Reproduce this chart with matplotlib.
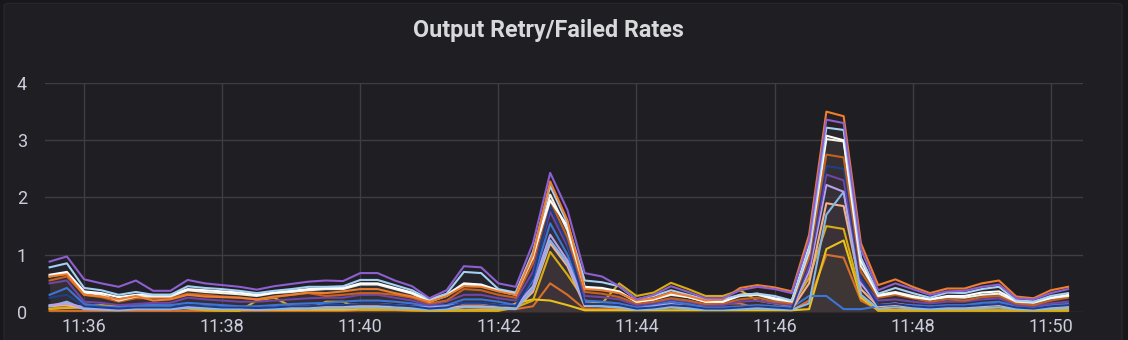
import numpy as np
import pandas as pd
import matplotlib
matplotlib.use("Agg")
import matplotlib.pyplot as plt
import matplotlib.dates as mdates
from matplotlib.patches import FancyBboxPatch

# sample times: one point every 15 s
start_time = "2021-06-01 11:35:30"
n_points = 60

# rates per series
purple = [0.88, 0.97, 0.57, 0.50, 0.44, 0.55, 0.37, 0.37, 0.56, 0.50,
          0.47, 0.44, 0.39, 0.45, 0.49, 0.53, 0.55, 0.54, 0.68, 0.68,
          0.55, 0.45, 0.24, 0.38, 0.80, 0.78, 0.50, 0.44, 1.20, 2.43,
          1.78, 0.68, 0.62, 0.45, 0.22, 0.30, 0.45, 0.35, 0.24, 0.24,
          0.38, 0.44, 0.40, 0.33, 1.25, 3.36, 3.30, 1.10, 0.38, 0.50,
          0.40, 0.30, 0.36, 0.37, 0.44, 0.48, 0.24, 0.22, 0.33, 0.40]
orange = [0.62, 0.66, 0.30, 0.27, 0.22, 0.28, 0.20, 0.22, 0.30, 0.27,
          0.26, 0.25, 0.22, 0.27, 0.30, 0.34, 0.33, 0.36, 0.40, 0.40,
          0.33, 0.27, 0.18, 0.28, 0.45, 0.44, 0.36, 0.30, 1.00, 2.28,
          1.60, 0.40, 0.38, 0.33, 0.20, 0.24, 0.34, 0.28, 0.20, 0.22,
          0.42, 0.47, 0.43, 0.36, 1.35, 3.50, 3.42, 1.20, 0.47, 0.57,
          0.44, 0.33, 0.41, 0.41, 0.50, 0.55, 0.27, 0.24, 0.38, 0.44]
light_blue = [0.78, 0.85, 0.42, 0.38, 0.30, 0.35, 0.30, 0.30, 0.45, 0.42,
              0.40, 0.37, 0.33, 0.37, 0.40, 0.44, 0.44, 0.45, 0.56, 0.56,
              0.47, 0.38, 0.22, 0.32, 0.70, 0.68, 0.40, 0.34, 1.05, 2.20,
              1.55, 0.55, 0.52, 0.45, 0.22, 0.28, 0.38, 0.30, 0.22, 0.22,
              0.30, 0.32, 0.28, 0.20, 1.10, 3.22, 3.18, 0.95, 0.32, 0.42,
              0.33, 0.25, 0.34, 0.33, 0.40, 0.44, 0.20, 0.18, 0.28, 0.33]
white = [0.65, 0.70, 0.36, 0.33, 0.26, 0.30, 0.30, 0.30, 0.40, 0.38,
         0.36, 0.34, 0.30, 0.34, 0.37, 0.40, 0.42, 0.42, 0.50, 0.50,
         0.42, 0.34, 0.20, 0.30, 0.50, 0.48, 0.38, 0.32, 1.00, 1.95,
         1.50, 0.44, 0.42, 0.36, 0.18, 0.22, 0.32, 0.26, 0.18, 0.18,
         0.30, 0.32, 0.24, 0.20, 1.15, 3.08, 3.00, 0.90, 0.28, 0.33,
         0.26, 0.22, 0.28, 0.28, 0.34, 0.36, 0.20, 0.18, 0.25, 0.30]
cream = [0.62, 0.68, 0.34, 0.30, 0.20, 0.27, 0.27, 0.27, 0.38, 0.35,
         0.33, 0.31, 0.28, 0.33, 0.35, 0.38, 0.40, 0.40, 0.48, 0.48,
         0.40, 0.32, 0.18, 0.28, 0.48, 0.46, 0.37, 0.30, 0.95, 2.05,
         1.42, 0.42, 0.40, 0.34, 0.18, 0.22, 0.30, 0.26, 0.18, 0.18,
         0.28, 0.30, 0.22, 0.18, 1.05, 3.02, 2.98, 0.80, 0.30, 0.35,
         0.28, 0.22, 0.26, 0.25, 0.30, 0.32, 0.18, 0.16, 0.24, 0.28]
brown = [0.55, 0.62, 0.30, 0.26, 0.18, 0.24, 0.24, 0.24, 0.32, 0.30,
         0.27, 0.25, 0.22, 0.26, 0.30, 0.33, 0.28, 0.30, 0.33, 0.33,
         0.30, 0.25, 0.15, 0.20, 0.40, 0.38, 0.30, 0.25, 0.85, 1.95,
         1.30, 0.35, 0.32, 0.26, 0.15, 0.18, 0.24, 0.20, 0.14, 0.15,
         0.22, 0.25, 0.18, 0.15, 0.95, 2.75, 2.70, 0.70, 0.25, 0.30,
         0.24, 0.18, 0.22, 0.20, 0.26, 0.28, 0.15, 0.12, 0.20, 0.25]
navy = [0.25, 0.30, 0.10, 0.08, 0.06, 0.08, 0.08, 0.08, 0.12, 0.10,
        0.08, 0.08, 0.07, 0.08, 0.10, 0.10, 0.12, 0.12, 0.14, 0.14,
        0.12, 0.10, 0.06, 0.08, 0.16, 0.16, 0.12, 0.10, 0.60, 1.85,
        1.20, 0.14, 0.14, 0.12, 0.06, 0.08, 0.12, 0.10, 0.06, 0.06,
        0.08, 0.10, 0.08, 0.06, 0.90, 2.55, 2.50, 0.60, 0.12, 0.14,
        0.10, 0.08, 0.10, 0.10, 0.12, 0.14, 0.08, 0.06, 0.10, 0.12]
dark_purple = [0.50, 0.55, 0.18, 0.16, 0.12, 0.14, 0.16, 0.16, 0.25, 0.22,
               0.20, 0.18, 0.18, 0.20, 0.22, 0.24, 0.25, 0.25, 0.30, 0.30,
               0.25, 0.20, 0.12, 0.18, 0.30, 0.30, 0.24, 0.20, 0.70, 1.75,
               1.15, 0.28, 0.26, 0.22, 0.12, 0.16, 0.22, 0.18, 0.12, 0.12,
               0.18, 0.20, 0.15, 0.12, 0.80, 2.40, 2.30, 0.55, 0.20, 0.22,
               0.18, 0.15, 0.18, 0.18, 0.22, 0.24, 0.12, 0.10, 0.15, 0.18]
lavender = [0.12, 0.15, 0.08, 0.06, 0.05, 0.08, 0.08, 0.08, 0.10, 0.10,
            0.08, 0.08, 0.06, 0.08, 0.10, 0.10, 0.12, 0.12, 0.14, 0.14,
            0.12, 0.10, 0.08, 0.10, 0.15, 0.15, 0.12, 0.10, 0.45, 1.35,
            0.90, 0.15, 0.14, 0.12, 0.06, 0.10, 0.14, 0.10, 0.06, 0.06,
            0.08, 0.10, 0.08, 0.06, 0.70, 2.22, 2.10, 0.50, 0.12, 0.15,
            0.10, 0.08, 0.10, 0.10, 0.12, 0.14, 0.08, 0.06, 0.10, 0.12]
pale_blue = [0.10, 0.18, 0.05, 0.04, 0.03, 0.05, 0.05, 0.05, 0.07, 0.06,
             0.05, 0.05, 0.04, 0.05, 0.06, 0.06, 0.07, 0.07, 0.08, 0.08,
             0.07, 0.06, 0.04, 0.05, 0.08, 0.08, 0.07, 0.05, 0.40, 1.25,
             0.85, 0.12, 0.10, 0.08, 0.04, 0.05, 0.08, 0.06, 0.04, 0.04,
             0.05, 0.06, 0.05, 0.04, 0.15, 1.70, 2.10, 0.30, 0.06, 0.08,
             0.06, 0.05, 0.06, 0.06, 0.07, 0.08, 0.05, 0.04, 0.06, 0.07]
peach = [0.10, 0.12, 0.06, 0.05, 0.04, 0.05, 0.05, 0.05, 0.08, 0.08,
         0.06, 0.06, 0.05, 0.06, 0.08, 0.08, 0.10, 0.10, 0.10, 0.10,
         0.08, 0.08, 0.06, 0.08, 0.10, 0.10, 0.08, 0.06, 0.35, 1.20,
         0.80, 0.10, 0.10, 0.08, 0.05, 0.08, 0.10, 0.08, 0.05, 0.05,
         0.06, 0.08, 0.06, 0.05, 0.50, 1.90, 1.85, 0.40, 0.10, 0.12,
         0.08, 0.06, 0.08, 0.08, 0.10, 0.12, 0.06, 0.05, 0.08, 0.10]
blue = [0.30, 0.42, 0.14, 0.10, 0.08, 0.12, 0.12, 0.12, 0.16, 0.14,
        0.12, 0.10, 0.10, 0.12, 0.14, 0.15, 0.16, 0.18, 0.20, 0.20,
        0.18, 0.15, 0.10, 0.12, 0.22, 0.22, 0.18, 0.12, 0.55, 1.55,
        1.00, 0.20, 0.18, 0.15, 0.08, 0.12, 0.18, 0.14, 0.08, 0.08,
        0.10, 0.12, 0.10, 0.08, 0.28, 0.28, 0.05, 0.05, 0.10, 0.14,
        0.12, 0.10, 0.12, 0.12, 0.16, 0.18, 0.10, 0.08, 0.12, 0.14]
gold = [0.05, 0.08, 0.10, 0.12, 0.10, 0.12, 0.12, 0.10, 0.06, 0.03,
        0.02, 0.02, 0.20, 0.25, 0.10, 0.04, 0.18, 0.18, 0.04, 0.04,
        0.04, 0.03, 0.02, 0.02, 0.02, 0.02, 0.02, 0.08, 0.20, 1.05,
        0.65, 0.20, 0.15, 0.50, 0.28, 0.34, 0.51, 0.40, 0.28, 0.28,
        0.38, 0.20, 0.15, 0.10, 0.60, 1.50, 1.45, 0.30, 0.02, 0.02,
        0.02, 0.02, 0.02, 0.02, 0.02, 0.02, 0.02, 0.02, 0.02, 0.02]
yellow = [0.06, 0.07, 0.08, 0.10, 0.10, 0.08, 0.08, 0.08, 0.08, 0.05,
          0.04, 0.04, 0.04, 0.04, 0.04, 0.04, 0.04, 0.04, 0.05, 0.05,
          0.05, 0.04, 0.03, 0.03, 0.03, 0.03, 0.03, 0.15, 0.22, 0.20,
          0.12, 0.03, 0.03, 0.03, 0.03, 0.03, 0.03, 0.03, 0.03, 0.03,
          0.03, 0.03, 0.03, 0.03, 0.05, 1.10, 1.25, 0.25, 0.03, 0.03,
          0.03, 0.03, 0.03, 0.03, 0.03, 0.03, 0.03, 0.03, 0.03, 0.03]
dark_orange = [0.02, 0.02, 0.02, 0.02, 0.02, 0.02, 0.02, 0.02, 0.02, 0.02,
               0.02, 0.02, 0.02, 0.02, 0.02, 0.02, 0.02, 0.02, 0.03, 0.03,
               0.03, 0.02, 0.02, 0.02, 0.03, 0.05, 0.05, 0.05, 0.10, 0.50,
               0.30, 0.05, 0.05, 0.05, 0.05, 0.06, 0.08, 0.05, 0.15, 0.15,
               0.15, 0.06, 0.04, 0.03, 0.20, 1.00, 0.95, 0.20, 0.04, 0.04,
               0.04, 0.04, 0.04, 0.05, 0.06, 0.08, 0.06, 0.04, 0.05, 0.06]

series = [
    (dark_orange, "#d9702a"),
    (yellow, "#e8c21c"),
    (gold, "#d9ad12"),
    (blue, "#3a76d8"),
    (peach, "#f4b088"),
    (pale_blue, "#86b8e6"),
    (lavender, "#b6a2ee"),
    (dark_purple, "#6e45a8"),
    (navy, "#1d3f8a"),
    (brown, "#c4611f"),
    (cream, "#f5efe0"),
    (white, "#ffffff"),
    (light_blue, "#a6d2f2"),
    (orange, "#ef7f2f"),
    (purple, "#8e5fcf"),
]

times = pd.date_range(start_time, periods=n_points, freq="15s")

bg = "#1f1f23"
text_col = "#ccccdc"

fig = plt.figure(figsize=(11.28, 3.40), dpi=100, facecolor="#18181b")
panel = FancyBboxPatch((4 / 1128, -0.05), 1118 / 1128, 1.04,
                       boxstyle="round,pad=0,rounding_size=0.006",
                       transform=fig.transFigure, facecolor=bg,
                       edgecolor="#26262b", linewidth=1, zorder=-10)
fig.patches.append(panel)

ax = fig.add_axes([45 / 1128, 1 - 312 / 340, 1038 / 1128, 229 / 340])
ax.set_facecolor(bg)

# grafana-style area fill: each series shaded faintly down to zero
for vals, col in series:
    ax.fill_between(times, vals, 0, color=col, alpha=0.04, linewidth=0)
    ax.fill_between(times, vals, 0, color="#000000", alpha=0.04, linewidth=0)
for vals, col in series:
    ax.plot(times, vals, color=col, linewidth=1.5, clip_on=False)

ax.set_xlim(pd.Timestamp("2021-06-01 11:35:26"), pd.Timestamp("2021-06-01 11:50:28"))
ax.set_ylim(0, 4)
ax.set_yticks([0, 1, 2, 3, 4])
ax.xaxis.set_major_locator(mdates.MinuteLocator(byminute=range(0, 60, 2)))
ax.xaxis.set_major_formatter(mdates.DateFormatter("%H:%M"))

ax.grid(True, color="#3d3d42", linewidth=1)
ax.set_axisbelow(True)
for s in ax.spines.values():
    s.set_visible(False)
ax.tick_params(axis="both", length=0, colors=text_col, labelsize=13)
ax.tick_params(axis="y", pad=13)
ax.tick_params(axis="x", pad=4)
for lbl in ax.get_xticklabels() + ax.get_yticklabels():
    lbl.set_fontfamily("Roboto")

fig.text(548 / 1128, 1 - 31 / 340, "Output Retry/Failed Rates", ha="center",
         va="center", color="#d8d9da", fontsize=16.8, fontweight="bold",
         family="Roboto")

fig.savefig("out.png", dpi=100, facecolor=fig.get_facecolor())
